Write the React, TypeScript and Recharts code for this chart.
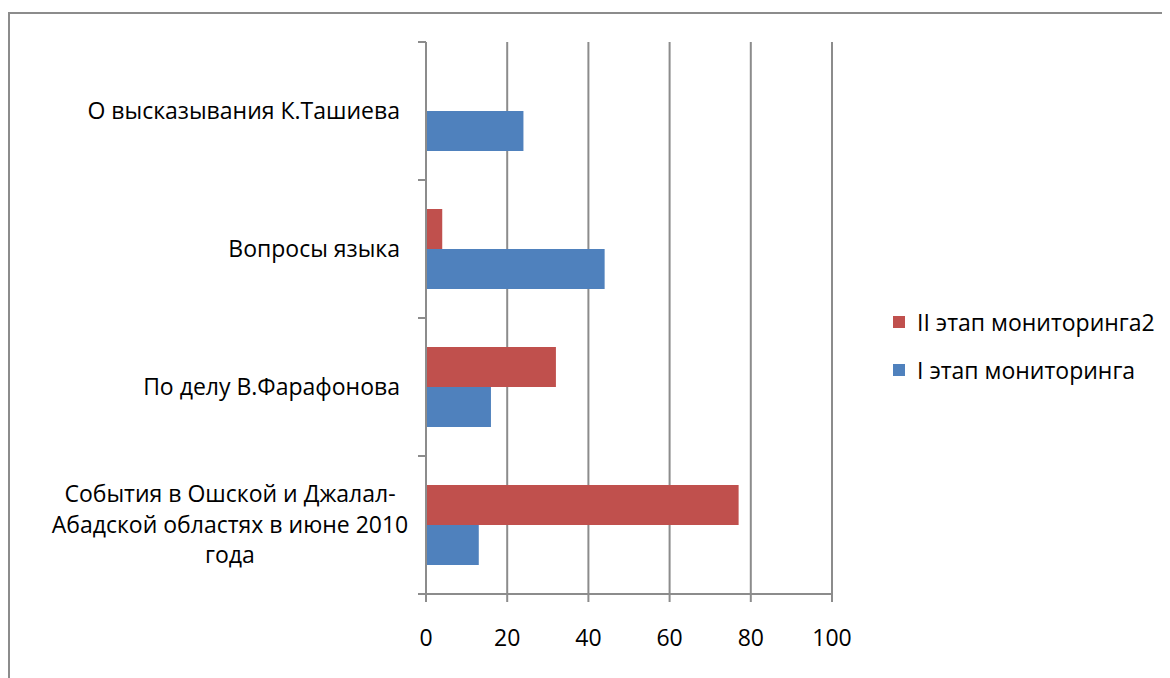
import React from "react";
import {
  BarChart,
  Bar,
  CartesianGrid,
  XAxis,
  YAxis,
  Legend,
} from "recharts";

const categories = [
  "О высказывания К.Ташиева",
  "Вопросы языка",
  "По делу В.Фарафонова",
  "События в Ошской и Джалал-\nАбадской областях в июне 2010\nгода",
];
const stage2Values = [0, 4, 32, 77];
const stage1Values = [24, 44, 16, 13];
const xTicks = [0, 20, 40, 60, 80, 100];

const series = [
  { key: "stage2", name: "II этап мониторинга2", color: "#C0504D" },
  { key: "stage1", name: "I этап мониторинга", color: "#4F81BD" },
];

const data = categories.map((name, i) => ({
  name,
  stage2: stage2Values[i],
  stage1: stage1Values[i],
}));

const FONT = "'Open Sans', sans-serif";
const AXIS_GRAY = "#8c8c8c";
const CHART_W = 1150;
const CHART_H = 656;
const PLOT_LEFT = 416;
const PLOT_TOP = 28;
const PLOT_RIGHT = 822;
const PLOT_BOTTOM = 580;
const HALF_BAND = (PLOT_BOTTOM - PLOT_TOP) / categories.length / 2;

const CategoryTick = (props: any) => {
  const { y, payload, index } = props;
  const lines = String(payload.value).split("\n");
  const lineH = 30.5;
  const first = y - ((lines.length - 1) * lineH) / 2 + 7.5;
  const multi = lines.length > 1;
  return (
    <g>
      <line
        x1={PLOT_LEFT - 8}
        x2={PLOT_LEFT}
        y1={y - HALF_BAND}
        y2={y - HALF_BAND}
        stroke={AXIS_GRAY}
        strokeWidth={2}
      />
      {index === categories.length - 1 && (
        <line
          x1={PLOT_LEFT - 8}
          x2={PLOT_LEFT}
          y1={y + HALF_BAND}
          y2={y + HALF_BAND}
          stroke={AXIS_GRAY}
          strokeWidth={2}
        />
      )}
      <text
        fontFamily={FONT}
        fontSize={23}
        fill="#000"
        textAnchor={multi ? "middle" : "end"}
      >
        {lines.map((l, i) => (
          <tspan key={i} x={multi ? 220 : PLOT_LEFT - 26} y={first + i * lineH}>
            {l}
          </tspan>
        ))}
      </text>
    </g>
  );
};

const LegendBox = () => (
  <div style={{ fontFamily: FONT, fontSize: 23, color: "#000" }}>
    {series.map((s) => (
      <div
        key={s.key}
        style={{ display: "flex", alignItems: "center", height: 48 }}
      >
        <span
          style={{
            display: "inline-block",
            width: 12,
            height: 12,
            background: s.color,
            marginRight: 12,
          }}
        />
        <span>{s.name}</span>
      </div>
    ))}
  </div>
);

export default function App() {
  return (
    <>
      <style>{"html, body { overflow: hidden; }"}</style>
      <div
        style={{
          marginTop: 4,
          width: 1162,
          height: 666,
          boxSizing: "border-box",
          borderTop: `2px solid ${AXIS_GRAY}`,
          borderLeft: `2px solid ${AXIS_GRAY}`,
          background: "#fff",
        }}
      >
        <BarChart
          width={CHART_W}
          height={CHART_H}
          data={data}
          layout="vertical"
          barCategoryGap={29}
          barGap={0}
          margin={{ top: PLOT_TOP, right: CHART_W - PLOT_RIGHT, left: 0, bottom: CHART_H - PLOT_BOTTOM - 40 }}
        >
          <CartesianGrid
            horizontal={false}
            stroke={AXIS_GRAY}
            strokeWidth={2}
            strokeDasharray=""
          />
          <XAxis
            type="number"
            domain={[0, 100]}
            ticks={xTicks}
            height={40}
            axisLine={{ stroke: AXIS_GRAY, strokeWidth: 2 }}
            tickLine={{ stroke: AXIS_GRAY, strokeWidth: 2 }}
            tickSize={8}
            tickMargin={28}
            tick={{ fontFamily: FONT, fontSize: 23, fill: "#000" }}
          />
          <YAxis
            type="category"
            dataKey="name"
            width={PLOT_LEFT}
            axisLine={{ stroke: AXIS_GRAY, strokeWidth: 2 }}
            tickLine={false}
            tick={<CategoryTick />}
            interval={0}
          />
          <Legend
            layout="vertical"
            align="center"
            verticalAlign="middle"
            content={<LegendBox />}
            wrapperStyle={{ left: 883, top: 284, width: 270 }}
          />
          {series.map((s) => (
            <Bar
              key={s.key}
              dataKey={s.key}
              name={s.name}
              fill={s.color}
              isAnimationActive={false}
            />
          ))}
        </BarChart>
      </div>
    </>
  );
}
